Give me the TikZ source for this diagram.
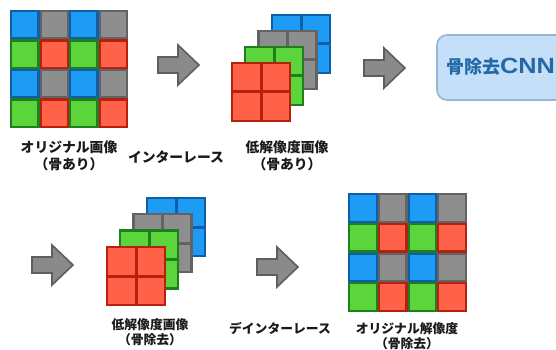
\documentclass[tikz,border=0pt]{standalone}
\usepackage{fontspec}
\newfontfamily\jp{Noto Sans CJK JP}
\newfontfamily\lat{Liberation Sans}
\definecolor{blueF}{HTML}{1E9BF5}
\definecolor{blueD}{HTML}{0F5FA8}
\definecolor{grayF}{HTML}{8E8E8E}
\definecolor{grayD}{HTML}{636363}
\definecolor{greenF}{HTML}{5CD43C}
\definecolor{greenD}{HTML}{1F7F1F}
\definecolor{redF}{HTML}{FF6149}
\definecolor{redD}{HTML}{B5200F}
\definecolor{arrF}{HTML}{8A8A8A}
\definecolor{arrD}{HTML}{5E5E5E}
\definecolor{cnnF}{HTML}{C4E0F8}
\definecolor{cnnD}{HTML}{97B6D4}
\definecolor{cnnT}{HTML}{2468A8}
\definecolor{txt}{HTML}{1A1A1A}
\tikzset{
  cellB/.style={fill=blueF,draw=blueD,line width=2.2pt},
  cellY/.style={fill=grayF,draw=grayD,line width=2.2pt},
  cellG/.style={fill=greenF,draw=greenD,line width=2.2pt},
  cellR/.style={fill=redF,draw=redD,line width=2.2pt},
  toplabel/.style={text=txt,align=center,inner sep=0pt,font=\jp\bfseries\fontsize{13.8}{17}\selectfont},
  botlabel/.style={text=txt,align=center,inner sep=0pt,font=\jp\bfseries\fontsize{12.8}{15.5}\selectfont},
  arrowsty/.style={fill=arrF,draw=arrD,line width=1.6pt,line join=miter},
  blockarrow/.pic={\draw[arrowsty] (0,-8) -- (20,-8) -- (20,-20) -- (41,0) -- (20,20) -- (20,8) -- (0,8) -- cycle;}
}
\newcommand\stacksq[4]{%
  \filldraw[fill=#3,draw=#4,line width=2.4pt] (#1,#2) rectangle ++(58,58);
  \draw[#4,line width=3pt] (#1+29,#2) -- ++(0,58) (#1,#2+29) -- ++(58,0);}
\newcommand\bayergrid[3]{%
  \begin{scope}[shift={(#1,#2)}]
  \foreach \c/\r/\k in {0/0/B,1/0/Y,2/0/B,3/0/Y,0/1/G,1/1/R,2/1/G,3/1/R,0/2/B,1/2/Y,2/2/B,3/2/Y,0/3/G,1/3/R,2/3/G,3/3/R}
    \draw[cell\k] (\c*#3+1.1,\r*#3+1.1) rectangle ++(#3-2.2,#3-2.2);
  \end{scope}}
\begin{document}
\begin{tikzpicture}[x=1pt,y=-1pt]
\useasboundingbox (0,0) rectangle (556,350);
\clip (0,0) rectangle (556,350);
% top row
\bayergrid{10}{10}{29.5}
\node[toplabel] (lab1) at (69,156) {オリジナル画像\\（骨あり）};
\pic at (158,65) {blockarrow};
\node[toplabel] (lab2) at (176,157) {インターレース};
\stacksq{272}{15}{blueF}{blueD}
\stacksq{258.5}{31}{grayF}{grayD}
\stacksq{245}{47}{greenF}{greenD}
\stacksq{232}{63}{redF}{redD}
\node[toplabel] (lab3) at (287,156) {低解像度画像\\（骨あり）};
\pic at (364,68) {blockarrow};
\draw[fill=cnnF,draw=cnnD,line width=1.6pt,rounded corners=10pt] (437,35) rectangle (620,100);
\node[anchor=west,inner sep=0pt,text=cnnT] (cnn) at (446,67) {\jp\bfseries\fontsize{18}{20}\selectfont 骨除去\lat\bfseries\fontsize{22}{22}\selectfont\scalebox{1.15}[1]{CNN}};
% bottom row
\pic at (32,265) {blockarrow};
\stacksq{147}{198}{blueF}{blueD}
\stacksq{133.5}{214}{grayF}{grayD}
\stacksq{120}{230.5}{greenF}{greenD}
\stacksq{107}{247}{redF}{redD}
\node[botlabel] (lab4) at (150,332) {低解像度画像\\（骨除去）};
\pic at (257,267) {blockarrow};
\node[botlabel] (lab5) at (280,328) {デインターレース};
\bayergrid{348}{193}{29.75}
\node[botlabel] (lab6) at (407,336) {オリジナル解像度\\（骨除去）};
\end{tikzpicture}
\end{document}
